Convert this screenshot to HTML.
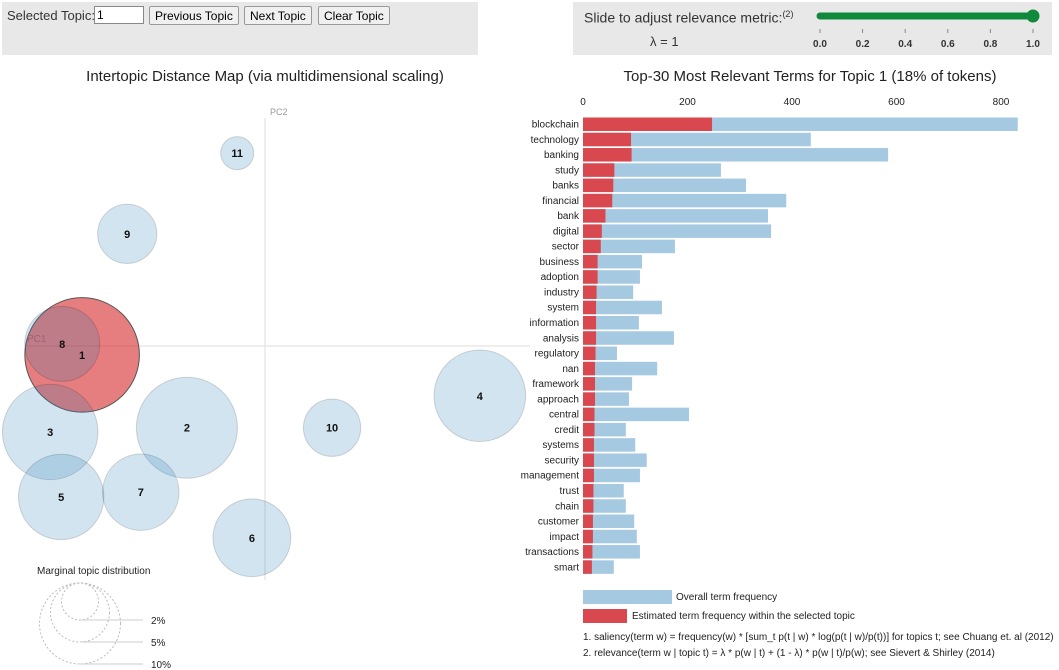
<!DOCTYPE html>
<html><head><meta charset="utf-8"><style>
body{margin:0;width:1059px;height:670px;background:#fff;font-family:"Liberation Sans",Arial,sans-serif;overflow:hidden;position:relative}
.panel{position:absolute;background:#e8e8e8}
button{font-family:"Liberation Sans",sans-serif;font-size:12px;padding:0 5px;border:1px solid #999;background:#f0f0f0;border-radius:2px;position:absolute;top:6px;height:19px}
svg{position:absolute;left:0;top:0}
</style></head><body>
<div class="panel" style="left:2px;top:2px;width:476px;height:53px"></div>
<div style="position:absolute;left:7px;top:8px;font-size:13px;color:#333">Selected Topic:</div>
<input value="1" style="position:absolute;left:94px;top:6px;width:44px;height:14px;font-size:12px;border:1px solid #888;padding:1px 2px">
<button style="left:149px">Previous Topic</button>
<button style="left:244px">Next Topic</button>
<button style="left:318px">Clear Topic</button>
<div class="panel" style="left:573px;top:2px;width:479px;height:53px"></div>
<div style="position:absolute;left:584px;top:9px;font-size:14px;color:#333">Slide to adjust relevance metric:<sup style="font-size:9px">(2)</sup></div>
<div style="position:absolute;left:650px;top:34px;font-size:13px;color:#333">λ = 1</div>
<svg width="1059" height="670">
<g>
<line x1="820" y1="16" x2="1033" y2="16" stroke="#0f8a3c" stroke-width="7" stroke-linecap="round"/>
<circle cx="1033" cy="16" r="6.5" fill="#0f8a3c"/>
</g>
<g id="sliderTicks" font-size="10" font-weight="bold" fill="#333" text-anchor="middle"></g>
<text x="265" y="81" text-anchor="middle" font-size="15" fill="#222">Intertopic Distance Map (via multidimensional scaling)</text>
<text x="810" y="81" text-anchor="middle" font-size="15" fill="#222">Top-30 Most Relevant Terms for Topic 1 (18% of tokens)</text>
<line x1="25" y1="346" x2="530" y2="346" stroke="#ddd"/>
<line x1="265" y1="118" x2="265" y2="580" stroke="#ddd"/>
<text x="270" y="115" font-size="9" fill="#999">PC2</text>
<g id="topics"></g>
<text x="27" y="342" font-size="10" fill="#a06070">PC1</text>
<g id="legendL"></g>
<g id="bars"></g>
<g>
<rect x="583" y="590" width="89" height="14" fill="#a6c9e2"/>
<text x="676" y="600" font-size="10" fill="#222">Overall term frequency</text>
<rect x="583" y="609" width="44" height="14" fill="#d9484f"/>
<text x="632" y="619" font-size="10" fill="#222">Estimated term frequency within the selected topic</text>
<text x="583" y="640" font-size="10" fill="#222">1. saliency(term w) = frequency(w) * [sum_t p(t | w) * log(p(t | w)/p(t))] for topics t; see Chuang et. al (2012)</text>
<text x="583" y="656" font-size="10" fill="#222">2. relevance(term w | topic t) = λ * p(w | t) + (1 - λ) * p(w | t)/p(w); see Sievert &amp; Shirley (2014)</text>
</g>
</svg>
<script>
const terms=["blockchain","technology","banking","study","banks","financial","bank","digital","sector","business","adoption","industry","system","information","analysis","regulatory","nan","framework","approach","central","credit","systems","security","management","trust","chain","customer","impact","transactions","smart"];
const overall=[832,436,584,264,312,389,354,360,176,113,109,96,151,107,174,65,142,94,88,203,82,100,122,109,78,82,98,103,109,59];
const topicFreq=[247,92,93,60,58,56,43,36,34,28,28,26,25,25,25,24,23,23,23,22,22,21,21,21,20,20,19,19,18,17];
const xTicks=[0,200,400,600,800];
const topicIds=[1,2,3,4,5,6,7,8,9,10,11];
const pc1=[-0.349,-0.149,-0.41,0.41,-0.389,-0.025,-0.237,-0.387,-0.263,0.128,-0.053];
const pc2=[-0.017,-0.156,-0.164,-0.095,-0.288,-0.366,-0.279,0.004,0.214,-0.156,0.368];
const topicSize=[18,14,12.5,11.5,10,8.3,8,7.7,4.8,4.5,1.5];
const sliderTicks=[0,0.2,0.4,0.6,0.8,1.0];
const legendPct=[2,5,10];
const NS="http://www.w3.org/2000/svg";
function mk(t,a,p){const e=document.createElementNS(NS,t);for(const k in a)e.setAttribute(k,a[k]);p.appendChild(e);return e;}
const xs=v=>583+v*0.5225;
const ys=i=>124+i*15.27;
const px=v=>265+v*524;
const py=v=>346-v*524;
const rs=s=>Math.sqrt(s)*13.5;
const sl=v=>820+v*213;
const st=document.getElementById('sliderTicks');
sliderTicks.forEach(v=>{
 const l=mk('line',{x1:sl(v),y1:29,x2:sl(v),y2:33,stroke:'#888'},st);
 
 
 const t=mk('text',{x:sl(v),y:47},st);t.textContent=v.toFixed(1);
 
 
});
const tg=document.getElementById('topics');
const order=[0,1,2,3,4,5,6,7,8,9,10];
order.forEach(i=>{
 const sel=topicIds[i]===1;
 const c=mk('circle',{cx:px(pc1[i]),cy:py(pc2[i]),r:rs(topicSize[i]),fill:sel?'rgba(214,39,40,0.6)':'rgba(31,119,180,0.2)',stroke:sel?'#555':'rgba(0,0,0,0.15)','stroke-width':1},tg);
 
 
});
order.forEach(i=>{
 const t=mk('text',{x:px(pc1[i]),y:py(pc2[i])+4,'text-anchor':'middle','font-size':11,'font-weight':'bold',fill:'#111'},tg);
 t.textContent=topicIds[i];
 
 
});
const lg=document.getElementById('legendL');
const lt=mk('text',{x:37,y:574,'font-size':10,fill:'#222'},lg);lt.textContent='Marginal topic distribution';


const lr={2:18.5,5:29.5,10:40.5};
legendPct.forEach(p=>{
 const r=lr[p];
 const c=mk('circle',{cx:80,cy:583+r,r:r,fill:'none',stroke:'#bbb','stroke-dasharray':'2 2'},lg);
 
 
 mk('line',{x1:80,y1:583+2*r,x2:143,y2:583+2*r,stroke:'#ccc'},lg);
 const t=mk('text',{x:151,y:587+2*r,'font-size':10,fill:'#222'},lg);t.textContent=p+'%';
 
 
});
const bg=document.getElementById('bars');
xTicks.forEach(v=>{
 const t=mk('text',{x:xs(v),y:105,'text-anchor':'middle','font-size':10,fill:'#222'},bg);t.textContent=v;
 
 
});
terms.forEach((w,i)=>{
 const y=ys(i);
 const b=mk('rect',{x:xs(0),y:y-6.5,width:xs(overall[i])-xs(0),height:13.5,fill:'#a6c9e2'},bg);
 
 
 const r=mk('rect',{x:xs(0),y:y-6.5,width:xs(topicFreq[i])-xs(0),height:13.5,fill:'#d9484f'},bg);
 
 
 const t=mk('text',{x:579,y:y+3.5,'text-anchor':'end','font-size':10,fill:'#222'},bg);t.textContent=w;
 
 
});
</script>
</body></html>
